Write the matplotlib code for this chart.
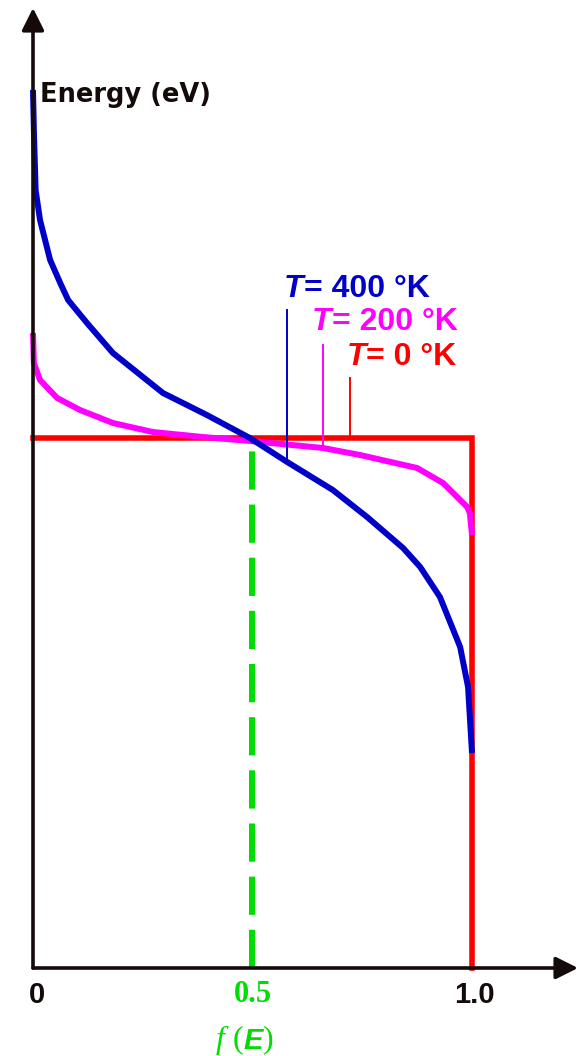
import numpy as np
import matplotlib
matplotlib.use("Agg")
import matplotlib.pyplot as plt

# ---------------- data ----------------
# f(E) (x) and energy relative to the Fermi level (y, arbitrary eV units)
f_400 = [0.0, 0.002, 0.004, 0.006, 0.016, 0.039, 0.062, 0.080, 0.123, 0.182,
         0.296, 0.396, 0.494, 0.579, 0.683, 0.761, 0.843, 0.882, 0.927, 0.973,
         0.991, 1.0]
E_400 = [3.48, 3.08, 2.78, 2.48, 2.18, 1.78, 1.55, 1.38, 1.15, 0.85,
         0.45, 0.23, 0.00, -0.24, -0.52, -0.79, -1.10, -1.29, -1.59, -2.09,
         -2.49, -3.15]

f_200 = [0.0, 0.002, 0.016, 0.055, 0.107, 0.182, 0.273, 0.387, 0.494, 0.661,
         0.745, 0.875, 0.934, 0.957, 0.989, 0.995, 1.0]
E_200 = [1.05, 0.75, 0.58, 0.40, 0.28, 0.15, 0.06, 0.01, -0.03, -0.10,
         -0.17, -0.30, -0.45, -0.55, -0.69, -0.75, -0.97]

f_0 = [0.0, 1.0, 1.0]
E_0 = [0.0, 0.0, -5.30]

E_bottom = -5.30          # energy at the horizontal axis
E_top = 4.30              # tip of the energy axis arrow
f_right = 1.2415          # tip of the f(E) axis arrow
f_half = 0.5

x_ticks = [0.0, 0.5, 1.0]
x_tick_labels = ["0", "0.5", "1.0"]

temps = ["400", "200", "0"]
leader_f = [0.579, 0.661, 0.722]
leader_top = [1.28, 0.93, 0.60]
label_pos = [(0.572, 1.49), (0.636, 1.155), (0.714, 0.81)]

# ---------------- style ----------------
BLACK = "#140a0a"
BLUE = "#0000c8"
MAGENTA = "#ff00ff"
RED = "#ff0000"
GREEN = "#00dd00"
colors = [BLUE, MAGENTA, RED]

fig = plt.figure(figsize=(5.83, 10.56), dpi=100)
ax = fig.add_axes([0, 0, 1, 1])
ax.set_xlim(-33 / 439, 550 / 439)
ax.set_ylim(-6.18, 4.38)
ax.axis("off")

# axes with arrow heads
arrow_kw = dict(arrowstyle="-|>,head_length=0.5,head_width=0.25", color=BLACK,
                lw=2.6, shrinkA=0, shrinkB=0, mutation_scale=27)
ax.annotate("", xy=(0, E_top), xytext=(0, E_bottom), arrowprops=arrow_kw, zorder=6)
ax.annotate("", xy=(f_right, E_bottom), xytext=(0, E_bottom), arrowprops=arrow_kw, zorder=6)

# curves
ax.plot(f_0, E_0, color=RED, lw=4.0, solid_joinstyle="miter", zorder=2)
ax.plot([f_half, f_half], [E_bottom, np.interp(f_half, f_0[:2], E_0[:2])],
        color=GREEN, lw=4.3, dashes=(6.4, 2.5), zorder=2.5)
ax.plot(f_200, E_200, color=MAGENTA, lw=4.3, zorder=3, solid_capstyle="butt")
ax.plot(f_400, E_400, color=BLUE, lw=4.3, zorder=4, solid_capstyle="butt")

# leader lines and temperature labels
curves = [(f_400, E_400), (f_200, E_200), (f_0[:2], E_0[:2])]
for (fc, Ec), lf, lt, col, (lx, ly), temp in zip(curves, leader_f, leader_top,
                                                  colors, label_pos, temps):
    ax.plot([lf, lf], [lt, np.interp(lf, fc, Ec)], color=col, lw=1.4, zorder=5)
    t1 = ax.text(lx, ly, "T", color=col, fontsize=23, family="Liberation Sans",
                 weight="bold", style="italic", ha="left", va="center")
    ax.annotate("= %s °K" % temp, xy=(1, 0), xycoords=t1, color=col, fontsize=23,
                family="Liberation Sans", weight="bold", ha="left", va="bottom")

# axis labels
ax.text(0.015, 3.43, "Energy (eV)", color=BLACK, fontsize=18.5, family="DejaVu Sans",
        weight="bold", ha="left", va="center")

for xv, lab in zip(x_ticks, x_tick_labels):
    if lab == "0.5":
        ax.text(xv, -5.57, lab, color=GREEN, fontsize=22, family="Liberation Serif",
                weight="bold", ha="center", va="center")
    else:
        ax.text(xv + (0.008 if xv == 0 else 0.006), -5.57, lab, color=BLACK,
                fontsize=21, family="Liberation Sans", weight="bold",
                ha="center", va="center")

# f (E)
p1 = ax.text(0.417, -6.02, "f", color=GREEN, fontsize=23, family="Liberation Serif",
             style="italic", ha="left", va="center")
p2 = ax.annotate(" (", xy=(1, 0), xycoords=p1, color=GREEN, fontsize=23,
                 family="Liberation Serif", ha="left", va="bottom")
p3 = ax.annotate("E", xy=(1, 0), xycoords=p2, color=GREEN, fontsize=21,
                 family="Liberation Sans", weight="bold", style="italic",
                 ha="left", va="bottom")
ax.annotate(")", xy=(1, 0), xycoords=p3, color=GREEN, fontsize=23,
            family="Liberation Serif", ha="left", va="bottom")

fig.savefig("out.png", dpi=100, facecolor="white")
